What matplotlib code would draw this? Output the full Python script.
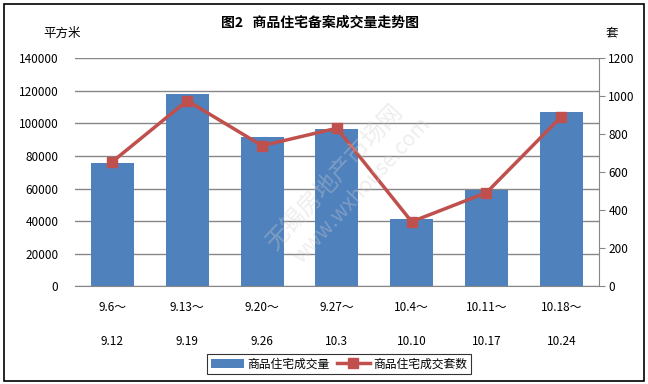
import matplotlib
matplotlib.use("Agg")
import matplotlib.pyplot as plt
import numpy as np

plt.rcParams['font.family'] = ['Noto Sans CJK SC', 'DejaVu Sans']

# data
periods_start = ["9.6～", "9.13～", "9.20～", "9.27～", "10.4～", "10.11～", "10.18～"]
periods_end = ["9.12", "9.19", "9.26", "10.3", "10.10", "10.17", "10.24"]
area = [75700, 118100, 91700, 96600, 41300, 59300, 107000]   # 平方米
units = [656, 977, 740, 832, 340, 493, 893]                  # 套

title = "图2   商品住宅备案成交量走势图"
bar_label = "商品住宅成交量"
line_label = "商品住宅成交套数"

BAR_COLOR = "#4F81BD"
LINE_COLOR = "#C0504D"
GRID_COLOR = "#878787"

fig = plt.figure(figsize=(6.48, 3.84), dpi=100)
ax = fig.add_axes([75 / 648, 1 - 286.3 / 384, (598.7 - 75) / 648, (286.3 - 58.3) / 384])
x = np.arange(len(area))

bars = ax.bar(x, area, width=0.575, color=BAR_COLOR, zorder=2, label=bar_label)
ax.set_xlim(-0.5, len(area) - 0.5)
ax.set_ylim(0, 140000)
ax.set_yticks(np.arange(0, 140001, 20000))
ax.yaxis.grid(True, color=GRID_COLOR, linewidth=1)
ax.set_axisbelow(True)
for s in ["left", "top", "right"]:
    ax.spines[s].set_visible(False)
ax.spines["bottom"].set_color(GRID_COLOR)
ax.tick_params(axis="y", length=0, pad=12, labelsize=8.5)
ax.tick_params(axis="x", length=0, labelbottom=False)

# two-line category labels
for i in x:
    ax.text(i, -0.095, periods_start[i], transform=ax.get_xaxis_transform(),
            ha="center", va="center", fontsize=8.5)
    ax.text(i, -0.24, periods_end[i], transform=ax.get_xaxis_transform(),
            ha="center", va="center", fontsize=8.5)

ax2 = ax.twinx()
line, = ax2.plot(x, units, color=LINE_COLOR, linewidth=2.5, marker="s",
                 markersize=7.5, zorder=3, label=line_label)
ax2.set_ylim(0, 1200)
ax2.set_yticks(np.arange(0, 1201, 200))
for s in ["left", "top", "bottom"]:
    ax2.spines[s].set_visible(False)
ax2.spines["right"].set_color(GRID_COLOR)
ax2.tick_params(axis="y", direction="out", length=4, color=GRID_COLOR, labelsize=8.5, pad=3)

fig.text(320 / 648, 1 - 23 / 384, title, ha="center", va="center", fontsize=10, fontweight="bold")
fig.text(62 / 648, 1 - 33 / 384, "平方米", ha="center", va="center", fontsize=9)
fig.text(612 / 648, 1 - 33 / 384, "套", ha="center", va="center", fontsize=9)

# faint watermark
fig.text(335 / 648, 1 - 178 / 384, "无锡房地产市场网", rotation=47, ha="center", va="center",
         fontsize=17, color="#cfcfcf", alpha=0.35, zorder=5)
fig.text(362 / 648, 1 - 190 / 384, "www.wxhouse.com", rotation=47, ha="center", va="center",
         fontsize=15, color="#cfcfcf", alpha=0.35, zorder=5)

leg = fig.legend([bars, line], [bar_label, line_label], loc="center",
                 bbox_to_anchor=(339 / 648, 1 - 364 / 384), ncol=2, fontsize=8.5,
                 frameon=True, fancybox=False, edgecolor="black",
                 handlelength=2.8, columnspacing=0.6, handletextpad=0.3,
                 borderpad=0.3)
leg.get_frame().set_linewidth(0.8)

# outer border
fig.add_artist(plt.Rectangle((4 / 648, 3 / 384), 640 / 648, 377 / 384,
                             transform=fig.transFigure, fill=False,
                             edgecolor="black", linewidth=1.2))

fig.savefig("out.png", dpi=100)
